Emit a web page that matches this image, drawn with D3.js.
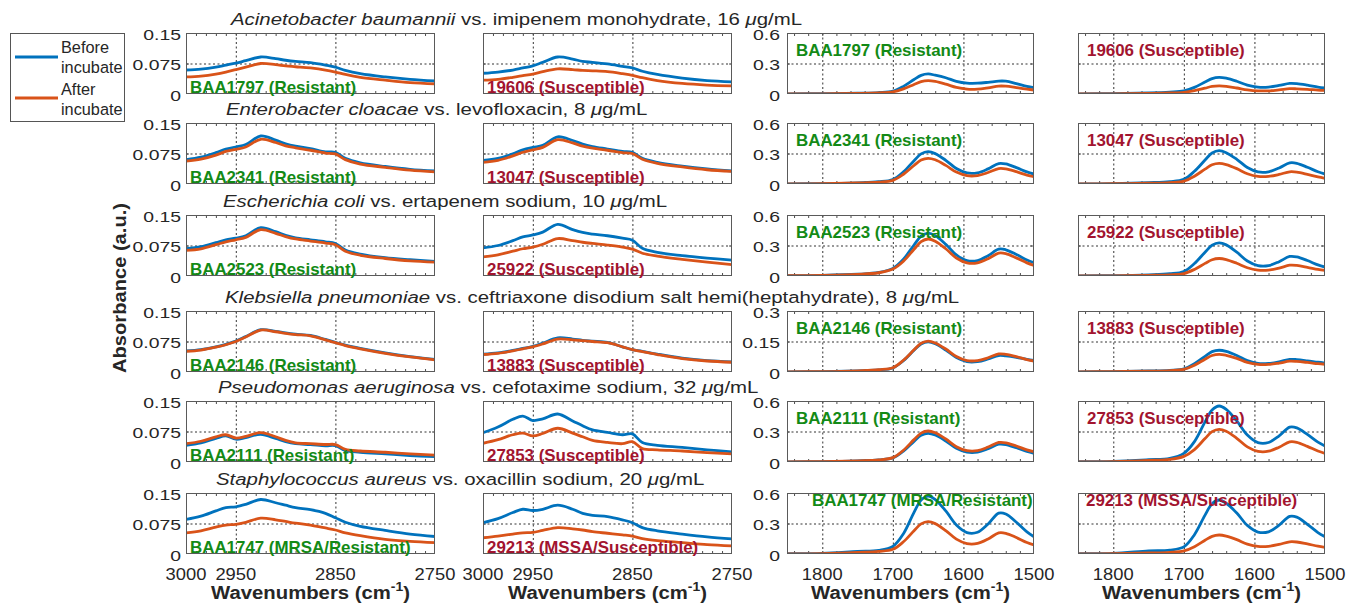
<!DOCTYPE html>
<html>
<head>
<meta charset="utf-8">
<script src="https://cdn.jsdelivr.net/npm/d3@7"></script>
<style>
body { margin: 0; background: #fff; }
svg { display: block; font-family: "Liberation Sans", Arial, sans-serif; }
</style>
</head>
<body>
<svg id="chart" width="1361" height="605"></svg>
<script>
var wnCH = [3000, 2985, 2970, 2960, 2950, 2940, 2925, 2910, 2900, 2890, 2875, 2860, 2850, 2840, 2825, 2800, 2775, 2750];
var wnAmide = [1850, 1800, 1750, 1720, 1700, 1685, 1670, 1660, 1650, 1640, 1625, 1610, 1595, 1580, 1565, 1550, 1540, 1525, 1510, 1500];

var species = ["Acinetobacter baumannii", "Enterobacter cloacae", "Escherichia coli",
               "Klebsiella pneumoniae", "Pseudomonas aeruginosa", "Staphylococcus aureus"];
var drugs = [" vs. imipenem monohydrate, 16 ", " vs. levofloxacin, 8 ", " vs. ertapenem sodium, 10 ",
             " vs. ceftriaxone disodium salt hemi(heptahydrate), 8 ", " vs. cefotaxime sodium, 32 ",
             " vs. oxacillin sodium, 20 "];
var resLabels = ["BAA1797 (Resistant)", "BAA2341 (Resistant)", "BAA2523 (Resistant)",
                 "BAA2146 (Resistant)", "BAA2111 (Resistant)", "BAA1747 (MRSA/Resistant)"];
var susLabels = ["19606 (Susceptible)", "13047 (Susceptible)", "25922 (Susceptible)",
                 "13883 (Susceptible)", "27853 (Susceptible)", "29213 (MSSA/Susceptible)"];

var amideMax = [0.6, 0.6, 0.6, 0.3, 0.6, 0.6];
var yTicksCH = ["0", "0.075", "0.15"];
var yTicksAmide = [["0", "0.3", "0.6"], ["0", "0.3", "0.6"], ["0", "0.3", "0.6"],
                   ["0", "0.15", "0.3"], ["0", "0.3", "0.6"], ["0", "0.3", "0.6"]];
var xTicksCH = [3000, 2950, 2850, 2750];
var xTicksAmide = [1800, 1700, 1600, 1500];

// C-H stretch region, resistant strain
var chResBefore = [
  [0.059,0.061,0.066,0.071,0.076,0.082,0.091,0.087,0.083,0.080,0.077,0.071,0.066,0.058,0.050,0.042,0.036,0.032],
  [0.060,0.066,0.077,0.086,0.091,0.097,0.118,0.108,0.099,0.093,0.087,0.079,0.078,0.063,0.052,0.043,0.036,0.032],
  [0.067,0.072,0.082,0.089,0.093,0.099,0.119,0.109,0.100,0.094,0.089,0.084,0.080,0.064,0.054,0.045,0.040,0.036],
  [0.052,0.055,0.062,0.068,0.076,0.087,0.104,0.100,0.096,0.093,0.090,0.080,0.073,0.066,0.058,0.047,0.038,0.031],
  [0.041,0.047,0.058,0.064,0.056,0.060,0.068,0.058,0.050,0.045,0.043,0.040,0.040,0.028,0.024,0.020,0.016,0.013],
  [0.085,0.093,0.106,0.114,0.116,0.122,0.134,0.126,0.120,0.114,0.109,0.100,0.089,0.078,0.068,0.058,0.049,0.043]
];
var chResAfter = [
  [0.042,0.044,0.049,0.054,0.060,0.066,0.075,0.072,0.069,0.067,0.064,0.059,0.054,0.048,0.041,0.034,0.028,0.025],
  [0.056,0.061,0.071,0.080,0.085,0.091,0.110,0.102,0.094,0.089,0.083,0.076,0.074,0.060,0.049,0.041,0.034,0.030],
  [0.063,0.067,0.077,0.084,0.089,0.095,0.114,0.105,0.097,0.091,0.086,0.081,0.077,0.061,0.051,0.043,0.037,0.034],
  [0.051,0.054,0.061,0.067,0.075,0.086,0.103,0.099,0.095,0.092,0.089,0.079,0.072,0.065,0.057,0.046,0.037,0.030],
  [0.045,0.051,0.062,0.067,0.059,0.063,0.072,0.062,0.053,0.047,0.045,0.043,0.043,0.031,0.027,0.024,0.020,0.017],
  [0.052,0.057,0.066,0.071,0.073,0.078,0.088,0.084,0.080,0.076,0.071,0.064,0.059,0.052,0.045,0.036,0.031,0.028]
];
// C-H stretch region, susceptible strain
var chSusBefore = [
  [0.051,0.054,0.059,0.064,0.069,0.078,0.091,0.086,0.080,0.078,0.074,0.068,0.064,0.056,0.048,0.039,0.033,0.030],
  [0.058,0.063,0.074,0.084,0.090,0.095,0.116,0.107,0.098,0.092,0.086,0.080,0.078,0.063,0.053,0.044,0.037,0.032],
  [0.069,0.075,0.087,0.096,0.101,0.108,0.127,0.114,0.107,0.103,0.099,0.093,0.088,0.068,0.058,0.050,0.044,0.039],
  [0.044,0.047,0.053,0.058,0.063,0.071,0.084,0.081,0.078,0.076,0.073,0.062,0.055,0.051,0.044,0.034,0.028,0.025],
  [0.072,0.086,0.105,0.113,0.102,0.106,0.118,0.101,0.089,0.079,0.073,0.067,0.069,0.048,0.041,0.036,0.030,0.025],
  [0.077,0.087,0.102,0.110,0.107,0.110,0.120,0.110,0.100,0.095,0.092,0.084,0.077,0.065,0.057,0.049,0.042,0.037]
];
var chSusAfter = [
  [0.034,0.036,0.041,0.045,0.049,0.055,0.062,0.060,0.058,0.057,0.055,0.050,0.046,0.040,0.033,0.026,0.022,0.020],
  [0.053,0.058,0.069,0.078,0.084,0.090,0.109,0.101,0.093,0.088,0.083,0.077,0.075,0.061,0.051,0.042,0.035,0.031],
  [0.047,0.052,0.061,0.067,0.071,0.078,0.092,0.087,0.083,0.080,0.076,0.071,0.066,0.056,0.049,0.041,0.034,0.028],
  [0.043,0.046,0.052,0.057,0.062,0.069,0.081,0.079,0.077,0.075,0.072,0.062,0.055,0.050,0.043,0.033,0.027,0.024],
  [0.046,0.055,0.067,0.071,0.064,0.070,0.083,0.071,0.062,0.053,0.048,0.045,0.050,0.033,0.030,0.027,0.023,0.020],
  [0.040,0.044,0.049,0.052,0.053,0.058,0.065,0.062,0.059,0.055,0.051,0.047,0.044,0.038,0.033,0.028,0.023,0.020]
];
// amide region, resistant strain
var amResBefore = [
  [0.002,0.003,0.008,0.014,0.028,0.075,0.142,0.183,0.197,0.185,0.160,0.125,0.107,0.106,0.115,0.127,0.126,0.102,0.075,0.062],
  [0.002,0.004,0.012,0.022,0.045,0.120,0.229,0.296,0.318,0.299,0.233,0.152,0.109,0.110,0.149,0.201,0.197,0.161,0.119,0.098],
  [0.003,0.006,0.017,0.035,0.075,0.165,0.305,0.392,0.422,0.397,0.312,0.207,0.152,0.152,0.200,0.264,0.258,0.212,0.157,0.130],
  [0.001,0.002,0.006,0.010,0.020,0.056,0.107,0.138,0.148,0.139,0.108,0.071,0.051,0.051,0.064,0.081,0.079,0.072,0.062,0.057],
  [0.002,0.004,0.011,0.020,0.040,0.107,0.203,0.262,0.282,0.265,0.206,0.134,0.096,0.096,0.130,0.175,0.172,0.140,0.103,0.085],
  [0.003,0.006,0.025,0.035,0.075,0.200,0.410,0.530,0.570,0.536,0.424,0.285,0.211,0.214,0.295,0.402,0.394,0.312,0.217,0.170]
];
var amResAfter = [
  [0.001,0.002,0.006,0.011,0.020,0.050,0.094,0.122,0.131,0.123,0.097,0.065,0.048,0.048,0.061,0.078,0.077,0.063,0.047,0.039],
  [0.001,0.003,0.010,0.018,0.036,0.096,0.182,0.235,0.253,0.238,0.183,0.117,0.082,0.083,0.113,0.152,0.149,0.121,0.088,0.072],
  [0.003,0.006,0.016,0.032,0.068,0.145,0.263,0.338,0.364,0.342,0.268,0.177,0.129,0.129,0.170,0.225,0.220,0.178,0.129,0.104],
  [0.001,0.002,0.006,0.011,0.021,0.058,0.109,0.141,0.152,0.143,0.113,0.076,0.056,0.056,0.070,0.089,0.087,0.076,0.061,0.054],
  [0.002,0.004,0.012,0.021,0.043,0.116,0.220,0.284,0.305,0.287,0.226,0.151,0.112,0.112,0.147,0.192,0.189,0.157,0.120,0.101],
  [0.002,0.004,0.015,0.025,0.046,0.120,0.229,0.296,0.318,0.299,0.230,0.146,0.102,0.104,0.148,0.208,0.204,0.162,0.113,0.089]
];
// amide region, susceptible strain
var amSusBefore = [
  [0.002,0.004,0.010,0.018,0.030,0.065,0.118,0.152,0.164,0.155,0.125,0.088,0.068,0.068,0.084,0.104,0.102,0.087,0.068,0.059],
  [0.002,0.004,0.013,0.023,0.046,0.125,0.236,0.305,0.328,0.308,0.243,0.162,0.119,0.120,0.158,0.208,0.204,0.165,0.120,0.098],
  [0.002,0.004,0.012,0.022,0.045,0.123,0.234,0.302,0.325,0.306,0.234,0.147,0.102,0.102,0.141,0.192,0.188,0.152,0.109,0.088],
  [0.001,0.002,0.005,0.008,0.015,0.041,0.077,0.100,0.107,0.101,0.081,0.056,0.042,0.042,0.050,0.062,0.061,0.055,0.048,0.044],
  [0.003,0.006,0.022,0.035,0.085,0.200,0.395,0.512,0.551,0.518,0.404,0.265,0.191,0.192,0.257,0.343,0.336,0.271,0.195,0.157],
  [0.003,0.006,0.030,0.038,0.070,0.190,0.382,0.494,0.531,0.499,0.403,0.281,0.216,0.218,0.284,0.370,0.363,0.292,0.211,0.170]
];
var amSusAfter = [
  [0.001,0.002,0.006,0.010,0.016,0.032,0.057,0.074,0.079,0.075,0.059,0.041,0.031,0.031,0.040,0.052,0.051,0.046,0.039,0.036],
  [0.001,0.003,0.008,0.014,0.028,0.077,0.146,0.189,0.203,0.191,0.151,0.101,0.075,0.075,0.094,0.120,0.117,0.095,0.069,0.056],
  [0.001,0.002,0.007,0.012,0.024,0.065,0.124,0.160,0.172,0.162,0.125,0.081,0.058,0.058,0.078,0.106,0.104,0.086,0.065,0.055],
  [0.001,0.002,0.004,0.007,0.013,0.033,0.063,0.081,0.087,0.082,0.067,0.047,0.037,0.037,0.044,0.053,0.052,0.047,0.041,0.038],
  [0.002,0.004,0.015,0.025,0.055,0.122,0.231,0.299,0.321,0.302,0.233,0.149,0.105,0.106,0.146,0.198,0.194,0.154,0.108,0.085],
  [0.002,0.003,0.010,0.016,0.030,0.072,0.135,0.174,0.187,0.176,0.141,0.097,0.074,0.075,0.094,0.120,0.118,0.099,0.077,0.066]
];

// layout
var colLeft = [186, 483, 787, 1078];
var colWidth = [249, 249, 247, 247];
var rowTop = [33, 123, 215, 311, 401, 493];
var plotH = 61;
var titleX = [231, 226, 223, 225, 218, 216];

var blue = "#0072bd", orange = "#d95319";
var green = "#138a16", crimson = "#a2142f";
var ink = "#262626";

var svg = d3.select("#chart");

// text stretched horizontally, anchored at (x, y)
function stext(parent, x, y, sx, anchor, size, weight) {
    return parent.append("text")
        .attr("transform", "translate(" + x + "," + y + ") scale(" + sx + ",1)")
        .attr("text-anchor", anchor)
        .style("font-size", size + "px")
        .style("font-weight", weight || "normal")
        .attr("fill", ink);
}

function drawPanel(r, c) {
    var isCH = c < 2;
    var wn = isCH ? wnCH : wnAmide;
    var w = colWidth[c];
    var ymax = isCH ? 0.15 : amideMax[r];

    var x = d3.scaleLinear()
        .domain(isCH ? [3000, 2750] : [1850, 1500])
        .range([0, w]);
    var y = d3.scaleLinear()
        .domain([0, ymax])
        .range([plotH, 0]);

    var g = svg.append("g")
        .attr("transform", "translate(" + colLeft[c] + "," + rowTop[r] + ")");

    var cid = "clip" + r + "_" + c;
    g.append("clipPath").attr("id", cid)
        .append("rect").attr("width", w).attr("height", plotH);

    // dotted grid
    var gx = g.append("g")
        .call(d3.axisBottom(x)
            .tickValues(isCH ? [2950, 2850] : [1800, 1700, 1600])
            .tickSize(plotH).tickFormat(""));
    var gy = g.append("g")
        .call(d3.axisLeft(y).tickValues([ymax / 2]).tickSize(-w).tickFormat(""));
    [gx, gy].forEach(function(s) {
        s.select(".domain").remove();
        s.selectAll("line")
            .attr("stroke", "#333")
            .attr("stroke-width", 1)
            .attr("stroke-dasharray", "2,2.5");
    });

    // minor / major ticks, pointing in
    var minor = isCH ? d3.range(2990, 2750, -10) : d3.range(1840, 1500, -20);
    var tickG = g.append("g");
    tickG.append("g").attr("transform", "translate(0," + plotH + ")")
        .call(d3.axisBottom(x).tickValues(minor).tickSize(-3).tickFormat(""));
    tickG.append("g")
        .call(d3.axisTop(x).tickValues(minor).tickSize(-3).tickFormat(""));
    tickG.append("g")
        .call(d3.axisLeft(y).tickValues([ymax / 2]).tickSize(-3).tickFormat(""));
    tickG.append("g").attr("transform", "translate(" + w + ",0)")
        .call(d3.axisRight(y).tickValues([ymax / 2]).tickSize(-3).tickFormat(""));
    tickG.selectAll(".domain").remove();
    tickG.selectAll("line").attr("stroke", "#4d4d4d").attr("stroke-width", 1);

    var before, after;
    if (c === 0) { before = chResBefore[r]; after = chResAfter[r]; }
    else if (c === 1) { before = chSusBefore[r]; after = chSusAfter[r]; }
    else if (c === 2) { before = amResBefore[r]; after = amResAfter[r]; }
    else { before = amSusBefore[r]; after = amSusAfter[r]; }

    var line = d3.line()
        .x(function(d, i) { return x(wn[i]); })
        .y(function(d) { return y(d); })
        .curve(d3.curveCatmullRom.alpha(0.5));

    var lines = g.append("g").attr("clip-path", "url(#" + cid + ")");
    lines.append("path").datum(before)
        .attr("d", line).attr("fill", "none")
        .attr("stroke", blue).attr("stroke-width", 2.8).attr("stroke-linejoin", "round");
    lines.append("path").datum(after)
        .attr("d", line).attr("fill", "none")
        .attr("stroke", orange).attr("stroke-width", 2.8).attr("stroke-linejoin", "round");

    g.append("rect")
        .attr("x", 0.5).attr("y", 0.5)
        .attr("width", w - 1).attr("height", plotH - 1)
        .attr("fill", "none")
        .attr("stroke", "#5a5a5a")
        .attr("stroke-width", 1);

    // strain label
    var resistant = (c === 0 || c === 2);
    var lx, ly;
    if (isCH) { lx = 4; ly = plotH - 1; }
    else if (r === 5) { lx = (c === 2) ? 25 : 8; ly = 13; }
    else { lx = 9; ly = 23; }
    stext(g, lx, ly, 1.025, "start", 16.5, "bold")
        .attr("fill", resistant ? green : crimson)
        .text(resistant ? resLabels[r] : susLabels[r]);

    // y tick labels on first column of each pair
    if (c === 0 || c === 2) {
        var labs = isCH ? yTicksCH : yTicksAmide[r];
        [0, ymax / 2, ymax].forEach(function(v, i) {
            stext(g, c === 0 ? -5 : -7, y(v) + 6.5, 1.25, "end", 15.5)
                .text(labs[i]);
        });
    }

    // x tick labels and axis title on the last row
    if (r === 5) {
        (isCH ? xTicksCH : xTicksAmide).forEach(function(v) {
            stext(g, x(v), plotH + 26, 1.08, "middle", 17).text(v);
        });
        var t = stext(g, w / 2, plotH + 45, 1.07, "middle", 19, "bold");
        t.append("tspan").text("Wavenumbers (cm");
        t.append("tspan").attr("dy", -8).style("font-size", "13px").text("-1");
        t.append("tspan").attr("dy", 8).text(")");
    }
}

for (var r = 0; r < 6; r++) {
    for (var c = 0; c < 4; c++) {
        drawPanel(r, c);
    }
    var title = stext(svg, titleX[r], rowTop[r] - 8, 1.2, "start", 17);
    title.append("tspan").style("font-style", "italic").text(species[r]);
    title.append("tspan").text(drugs[r]);
    title.append("tspan").style("font-style", "italic").text("\u03bc");
    title.append("tspan").text("g/mL");
}

stext(svg, 126, 288, 1.06, "middle", 19, "bold")
    .attr("transform", "translate(126,288) rotate(-90) scale(1.06,1)")
    .text("Absorbance (a.u.)");

// legend
var leg = svg.append("g");
leg.append("rect")
    .attr("x", 10.5).attr("y", 33.5)
    .attr("width", 114).attr("height", 88)
    .attr("fill", "#fff")
    .attr("stroke", "#555")
    .attr("stroke-width", 1);
[[blue, 57, "Before", 53, 73], [orange, 98, "After", 95, 115]].forEach(function(e) {
    leg.append("line")
        .attr("x1", 15).attr("x2", 58)
        .attr("y1", e[1]).attr("y2", e[1])
        .attr("stroke", e[0]).attr("stroke-width", 2.8);
    stext(leg, 61, e[3], 1.0, "start", 16.3).text(e[2]);
    stext(leg, 61, e[4], 1.0, "start", 16.3).text("incubate");
});
</script>
</body>
</html>
